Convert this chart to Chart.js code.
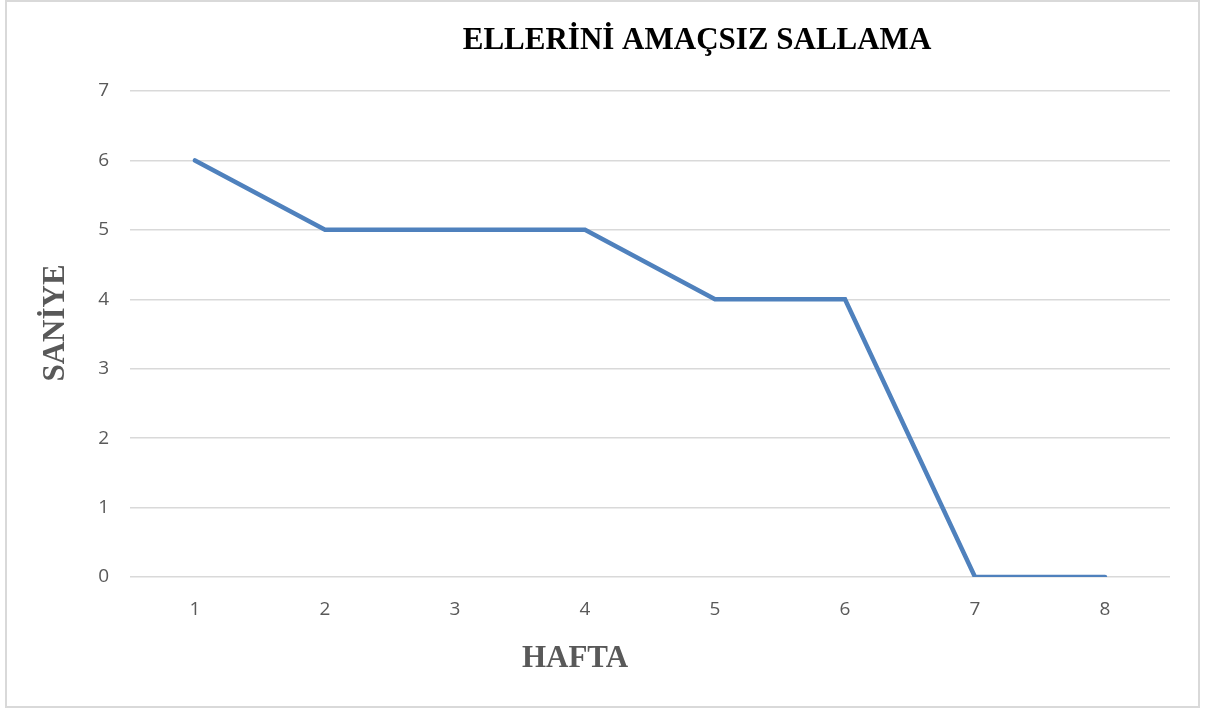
<!DOCTYPE html>
<html>
<head>
<meta charset="utf-8">
<script src="https://cdn.jsdelivr.net/npm/chart.js@4"></script>
<style>
    html, body { margin: 0; padding: 0; background: #fff; }
    #cerceve { position: absolute; left: 5px; top: 0; width: 1191px; height: 704px; border: 2px solid #d9d9d9; }
    #grafik { position: absolute; left: 0; top: 0; }
</style>
</head>
<body>
<div id="cerceve"></div>
<canvas id="grafik" width="1208" height="709"></canvas>
<script>
const haftalar = ['1', '2', '3', '4', '5', '6', '7', '8'];
const saniyeler = [6, 5, 5, 5, 4, 4, 0, 0];
const baslik = 'ELLERİNİ AMAÇSIZ SALLAMA';
const yBaslik = 'SANİYE';
const xBaslik = 'HAFTA';

document.addEventListener('DOMContentLoaded', function() {
    // Basliklari elle yerlestiren kucuk eklenti
    const basliklar = {
        id: 'basliklar',
        afterDraw(chart) {
            const c = chart.ctx;
            c.save();
            c.textAlign = 'center';
            c.textBaseline = 'middle';
            c.fillStyle = '#000000';
            c.font = 'bold 31px "Liberation Serif"';
            c.fillText(baslik, 697, 41);

            c.fillStyle = '#595959';
            c.font = 'bold 31px "Liberation Serif"';
            c.fillText(xBaslik, 575, 659);

            c.translate(56, 323);
            c.rotate(-Math.PI / 2);
            c.fillText(yBaslik, 0, 0);
            c.restore();
        }
    };

    const ctx = document.getElementById('grafik').getContext('2d');
    new Chart(ctx, {
        type: 'line',
        data: {
            labels: haftalar,
            datasets: [{
                data: saniyeler,
                borderColor: '#4f81bd',
                borderWidth: 4.5,
                borderCapStyle: 'round',
                pointRadius: 0,
                tension: 0,
                fill: false
            }]
        },
        options: {
            responsive: false,
            animation: false,
            layout: {
                padding: { left: 2, right: 38, top: 91, bottom: 0 }
            },
            plugins: {
                legend: { display: false },
                title: { display: false },
                tooltip: { enabled: false }
            },
            scales: {
                x: {
                    offset: true,
                    afterFit(scale) { scale.height = 132; },
                    grid: { display: false },
                    border: { display: false },
                    ticks: {
                        color: '#595959',
                        font: { family: '"Open Sans"', size: 19 },
                        padding: 13,
                        maxRotation: 0
                    }
                },
                y: {
                    min: 0,
                    max: 7,
                    afterFit(scale) { scale.width = 128; },
                    grid: { color: '#d9d9d9', lineWidth: 1.5, drawTicks: false },
                    border: { display: false },
                    ticks: {
                        stepSize: 1,
                        color: '#595959',
                        font: { family: '"Open Sans"', size: 19 },
                        padding: 21
                    }
                }
            }
        },
        plugins: [basliklar]
    });
});
</script>
</body>
</html>
